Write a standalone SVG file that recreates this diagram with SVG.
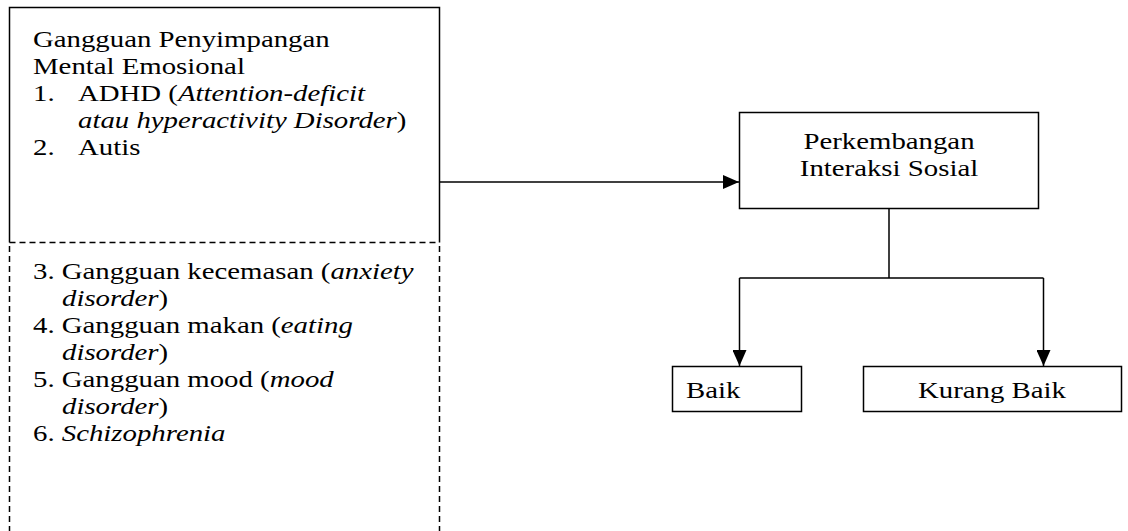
<svg xmlns="http://www.w3.org/2000/svg" width="1128" height="531" viewBox="0 0 1128 531">
<defs>
<style>
text{font-family:"Liberation Serif","Times New Roman",serif;font-size:24px;fill:#000}
.it{font-style:italic}
.box{fill:#fff;stroke:#000;stroke-width:1.5}
.ln{fill:none;stroke:#000;stroke-width:1.5}
.dash{fill:none;stroke:#000;stroke-width:1.5;stroke-dasharray:6 4}
</style>
<marker id="ah2" markerWidth="16" markerHeight="14" refX="16" refY="7" orient="auto" markerUnits="userSpaceOnUse" viewBox="0 0 16 14">
<path d="M0,0 L16,7 L0,14 Z" fill="#000"/>
</marker>
</defs>
<rect width="1128" height="531" fill="#fff"/>
<g id="gangguan">
<path class="ln" d="M9.5,242.5 V7.5 H439.5 V242.5"/>
<path class="dash" d="M9.5,242.5 H439.5"/>
<text transform="translate(33,47) scale(1.2,1)">Gangguan Penyimpangan</text>
<text transform="translate(33,74) scale(1.2,1)">Mental Emosional</text>
<text transform="translate(33,101) scale(1.2,1)">1.</text>
<text transform="translate(78,101) scale(1.2,1)">ADHD (<tspan class="it">Attention-deficit</tspan></text>
<text transform="translate(78,128) scale(1.2,1)"><tspan class="it">atau hyperactivity Disorder</tspan>)</text>
<text transform="translate(33,155) scale(1.2,1)">2.</text>
<text transform="translate(78,155) scale(1.2,1)">Autis</text>
</g>
<g id="gangguan-lain">
<path class="dash" d="M9.5,246 V531 M439.5,246 V531"/>
<text transform="translate(33,279) scale(1.2,1)">3. Gangguan kecemasan (<tspan class="it">anxiety</tspan></text>
<text transform="translate(62,306) scale(1.2,1)"><tspan class="it">disorder</tspan>)</text>
<text transform="translate(33,333) scale(1.2,1)">4. Gangguan makan (<tspan class="it">eating</tspan></text>
<text transform="translate(62,360) scale(1.2,1)"><tspan class="it">disorder</tspan>)</text>
<text transform="translate(33,387) scale(1.2,1)">5. Gangguan mood (<tspan class="it">mood</tspan></text>
<text transform="translate(62,414) scale(1.2,1)"><tspan class="it">disorder</tspan>)</text>
<text transform="translate(33,441) scale(1.2,1)">6. <tspan class="it">Schizophrenia</tspan></text>
</g>
<g id="perkembangan">
<rect class="box" x="739.5" y="112.5" width="299" height="96"/>
<text transform="translate(889,149) scale(1.2,1)" text-anchor="middle">Perkembangan</text>
<text transform="translate(889,176) scale(1.2,1)" text-anchor="middle">Interaksi Sosial</text>
</g>
<g id="baik">
<rect class="box" x="672.5" y="366.5" width="129" height="45"/>
<text transform="translate(686,398) scale(1.2,1)">Baik</text>
</g>
<g id="kurang-baik">
<rect class="box" x="863.5" y="366.5" width="258" height="45"/>
<text transform="translate(992,398) scale(1.2,1)" text-anchor="middle">Kurang Baik</text>
</g>
<g id="connectors">
<path class="ln" d="M439.5,182 H739" marker-end="url(#ah2)"/>
<path class="ln" d="M889,208.5 V278 M739.5,278 H1043.5"/>
<path class="ln" d="M739.5,278 V366" marker-end="url(#ah2)"/>
<path class="ln" d="M1043.5,278 V366" marker-end="url(#ah2)"/>
</g>
</svg>
